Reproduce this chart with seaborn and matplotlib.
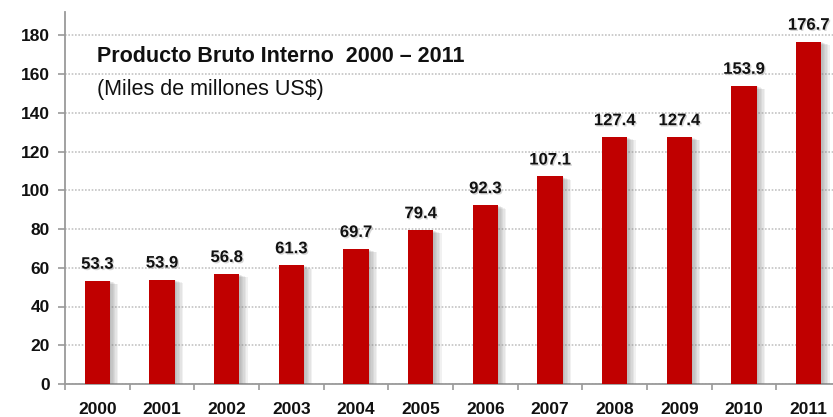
import matplotlib
matplotlib.use("Agg")
import matplotlib.pyplot as plt
import matplotlib.patheffects as pe
from matplotlib import font_manager
import seaborn as sns
import pandas as pd

years = ["2000", "2001", "2002", "2003", "2004", "2005", "2006", "2007", "2008", "2009", "2010", "2011"]
values = [53.3, 53.9, 56.8, 61.3, 69.7, 79.4, 92.3, 107.1, 127.4, 127.4, 153.9, 176.7]
yticks = [0, 20, 40, 60, 80, 100, 120, 140, 160, 180]
title = "Producto Bruto Interno  2000 \u2013 2011"
subtitle = "(Miles de millones US$)"

sns.set_theme(style="white")
plt.rcParams['font.family'] = ['Liberation Sans', 'DejaVu Sans']

names = {f.name for f in font_manager.fontManager.ttflist}
label_family = ["Liberation Sans Narrow"] if "Liberation Sans Narrow" in names else ["Liberation Sans"]

W, H = 833, 417
fig = plt.figure(figsize=(W / 100, H / 100), dpi=100)
ax = fig.add_axes([65 / W, 33 / H, 776 / W, 372 / H])

df = pd.DataFrame({"year": years, "value": values})
sns.barplot(data=df, x="year", y="value", color="#C00000", saturation=1,
            width=0.39, ax=ax, zorder=3)

shadow = [pe.SimplePatchShadow(offset=(o, -o * 0.4), shadow_rgbFace="#777777", alpha=0.10)
          for o in (1, 2, 3, 4, 5, 6)]
for bar in ax.patches:
    bar.set_path_effects(shadow + [pe.Normal()])
    bar.set_edgecolor("none")

ax.set_xlim(-0.5, len(years) - 0.5)
ax.set_ylim(0, 192)
ax.set_yticks(yticks)
ax.set_xlabel("")
ax.set_ylabel("")

ax.set_axisbelow(True)
ax.yaxis.grid(True, color="#c4c4c4", linestyle=(0, (1, 1)), linewidth=1.2, zorder=0)
ax.xaxis.grid(False)

for s in ("top", "right"):
    ax.spines[s].set_visible(False)
for s in ("left", "bottom"):
    ax.spines[s].set_color("#9a9a9a")
    ax.spines[s].set_linewidth(1.3)

ax.set_xticks([i - 0.5 for i in range(len(years))], minor=True)
ax.tick_params(axis="x", which="major", length=0, pad=13)
ax.tick_params(axis="x", which="minor", length=4, width=1.2, color="#9a9a9a", bottom=True)
ax.tick_params(axis="y", length=5, width=1.2, color="#9a9a9a", left=True, pad=6)

for lab in ax.get_xticklabels() + ax.get_yticklabels():
    lab.set_fontweight("bold")
    lab.set_fontsize(12.5)
    lab.set_color("#111111")

ax.bar_label(ax.containers[0], labels=[f"{v:.1f}" for v in values], padding=6.5,
             fontsize=12, fontweight="bold", color="#111111",
             family=label_family + ["DejaVu Sans"],
             path_effects=[pe.withSimplePatchShadow(offset=(1, -1), shadow_rgbFace="#999999", alpha=0.4)])

fig.text(97 / W, 1 - 57 / H, title, fontsize=15.5, fontweight="bold", color="#111111",
         va="center", ha="left")
fig.text(97 / W, 1 - 89 / H, subtitle, fontsize=15.5, color="#111111",
         va="center", ha="left")

fig.savefig("out.png", dpi=100)
